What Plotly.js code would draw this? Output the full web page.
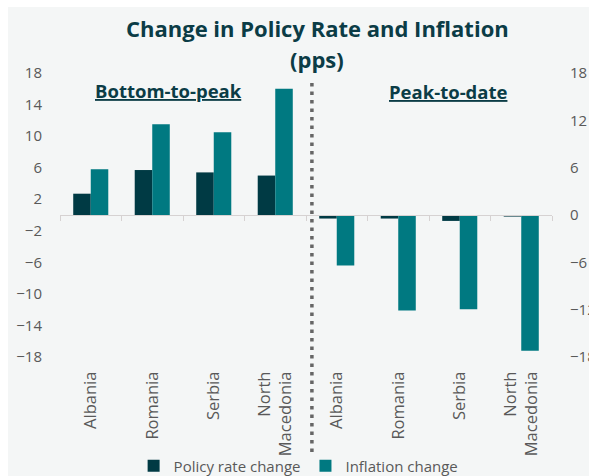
<!DOCTYPE html>
<html>
<head>
<meta charset="utf-8">
<script src="https://cdn.plot.ly/plotly-3.0.1.min.js"></script>
<style>
  html, body { margin: 0; padding: 0; background: #ffffff; }
  #chart { position: absolute; left: 8px; top: 7px; width: 581px; height: 469px; }
</style>
</head>
<body>
<div id="chart"></div>
<script>
// ---- Data ----
const countries = ['Albania', 'Romania', 'Serbia', 'North<br>Macedonia'];
const chartTitle = ['Change in Policy Rate and Inflation', '(pps)'];
const panelTitles = ['Bottom-to-peak', 'Peak-to-date'];
const seriesNames = ['Policy rate change', 'Inflation change'];

const policyBottomToPeak    = [2.7, 5.7, 5.4, 5.0];
const inflationBottomToPeak = [5.8, 11.5, 10.5, 16.0];
const policyPeakToDate      = [-0.45, -0.45, -0.75, -0.2];
const inflationPeakToDate   = [-6.4, -12.1, -11.95, -17.2];

const leftTicks  = [-18, -14, -10, -6, -2, 2, 6, 10, 14, 18];
const rightTicks = [-18, -12, -6, 0, 6, 12, 18];

// ---- Styling ----
const cPolicy = '#003A44';
const cInfl = '#007981';
const cTitle = '#0B3C46';
const cGrey = '#595959';
const boldFont = '"Open Sans", "Noto Sans", sans-serif';
const bodyFont = '"Open Sans", "Noto Sans", sans-serif';

const n = countries.length;
const xLeft = countries.map((_, i) => i);
const xRight = countries.map((_, i) => i + n);
const allTickVals = xLeft.concat(xRight);
const allTickText = countries.concat(countries);
const boundaries = [];
for (let i = 0; i <= 2 * n; i++) boundaries.push(i - 0.5);

const traces = [
  { type: 'bar', name: seriesNames[0], x: xLeft, y: policyBottomToPeak,
    marker: { color: cPolicy, line: { width: 0 } }, xaxis: 'x', yaxis: 'y' },
  { type: 'bar', name: seriesNames[1], x: xLeft, y: inflationBottomToPeak,
    marker: { color: cInfl, line: { width: 0 } }, xaxis: 'x', yaxis: 'y' },
  { type: 'bar', name: seriesNames[0], x: xRight, y: policyPeakToDate, showlegend: false,
    marker: { color: cPolicy, line: { width: 0 } }, xaxis: 'x', yaxis: 'y2' },
  { type: 'bar', name: seriesNames[1], x: xRight, y: inflationPeakToDate, showlegend: false,
    marker: { color: cInfl, line: { width: 0 } }, xaxis: 'x', yaxis: 'y2' },
  // invisible trace to activate the zero-line axis with boundary ticks
  { type: 'scatter', x: [-0.5], y: [0], xaxis: 'x2', yaxis: 'y', mode: 'none',
    showlegend: false, hoverinfo: 'skip' }
];

const layout = {
  width: 581, height: 469,
  margin: { l: 52, r: 37, t: 66, b: 119, pad: 0, autoexpand: false },
  paper_bgcolor: '#F4F6F6',
  plot_bgcolor: 'rgba(0,0,0,0)',
  font: { family: bodyFont, color: cGrey, size: 15 },
  barmode: 'group', bargap: 0.43, bargroupgap: 0,
  showlegend: true,
  legend: {
    orientation: 'h', x: 0.485, xanchor: 'center', y: -0.384, yanchor: 'middle',
    font: { family: bodyFont, size: 15, color: cGrey }, bgcolor: 'rgba(0,0,0,0)',
    traceorder: 'normal', itemwidth: 30
  },
  xaxis: {
    range: [-0.5, 2 * n - 0.5], tickmode: 'array', tickvals: allTickVals, ticktext: allTickText,
    tickangle: -90, ticks: 'outside', ticklen: 7, tickcolor: 'rgba(0,0,0,0)',
    showline: false, showgrid: false, zeroline: false, automargin: false,
    tickfont: { family: bodyFont, size: 16.5, color: cGrey }
  },
  xaxis2: {
    overlaying: 'x', anchor: 'free', position: 0.5, side: 'bottom',
    range: [-0.5, 2 * n - 0.5], tickmode: 'array', tickvals: boundaries,
    ticks: 'outside', ticklen: 5, tickcolor: '#D6D2D2', showticklabels: false,
    showline: true, linecolor: '#D6D2D2', linewidth: 1, showgrid: false, zeroline: false
  },
  yaxis: {
    range: [-18, 18], tickmode: 'array', tickvals: leftTicks,
    ticks: 'outside', ticklen: 14, tickcolor: 'rgba(0,0,0,0)', automargin: false,
    showgrid: false, zeroline: false, showline: false,
    tickfont: { family: bodyFont, size: 15, color: cGrey }
  },
  yaxis2: {
    overlaying: 'y', side: 'right', range: [-18, 18], tickmode: 'array', tickvals: rightTicks,
    ticks: 'outside', ticklen: 14, tickcolor: 'rgba(0,0,0,0)', automargin: false,
    showgrid: false, zeroline: false, showline: false,
    tickfont: { family: bodyFont, size: 15, color: cGrey }
  },
  annotations: [
    { text: '<b>' + chartTitle[0] + '</b>', xref: 'paper', yref: 'paper',
      x: 0.524, y: 1.16, xanchor: 'center', yanchor: 'middle', showarrow: false,
      font: { family: boldFont, size: 22, color: cTitle } },
    { text: '<b>' + chartTitle[1] + '</b>', xref: 'paper', yref: 'paper',
      x: 0.522, y: 1.05, xanchor: 'center', yanchor: 'middle', showarrow: false,
      font: { family: boldFont, size: 22, color: cTitle } },
    { text: '<b><span style="text-decoration:underline">' + panelTitles[0] + '</span></b>',
      xref: 'paper', yref: 'paper', x: 0.2215, y: 0.938, xanchor: 'center', yanchor: 'middle',
      showarrow: false, font: { family: boldFont, size: 18.5, color: cTitle } },
    { text: '<b><span style="text-decoration:underline">' + panelTitles[1] + '</span></b>',
      xref: 'paper', yref: 'paper', x: 0.789, y: 0.935, xanchor: 'center', yanchor: 'middle',
      showarrow: false, font: { family: boldFont, size: 18.5, color: cTitle } }
  ],
  shapes: [
    { type: 'line', xref: 'paper', yref: 'paper', x0: 0.512, x1: 0.512, y0: 0.965, y1: -0.338,
      line: { color: '#666666', width: 3.5, dash: '3.5px,5px' } }
  ]
};

Plotly.newPlot('chart', traces, layout, { displayModeBar: false, staticPlot: true });
</script>
</body>
</html>
